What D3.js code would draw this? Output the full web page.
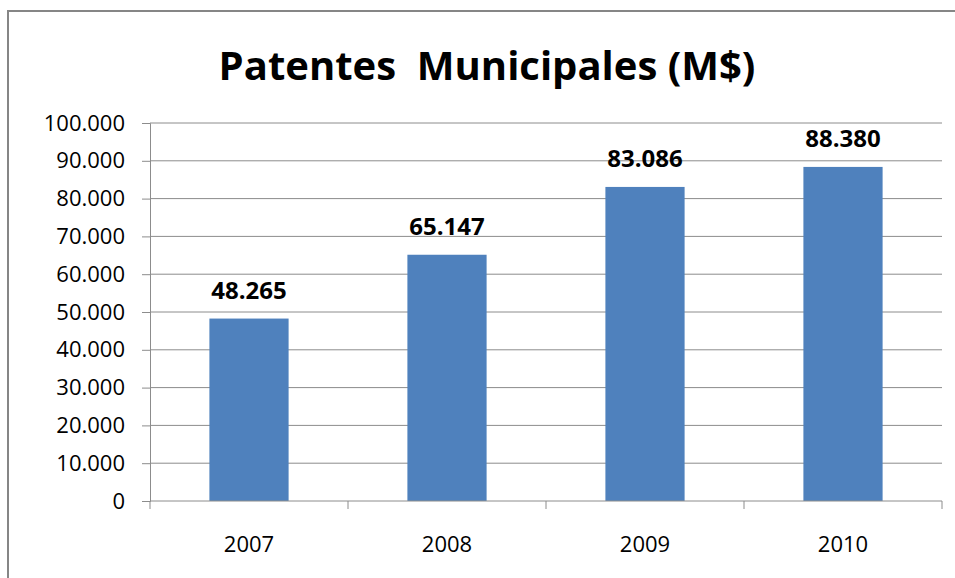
<!DOCTYPE html>
<html>
<head>
<meta charset="utf-8">
<script src="https://cdn.jsdelivr.net/npm/d3@7"></script>
<style>
  body { margin: 0; background: #fff; }
  text { font-family: "Open Sans", "Liberation Sans", sans-serif; }
</style>
</head>
<body>
<div id="chart"></div>
<script>
// datos del grafico
const years = ["2007", "2008", "2009", "2010"];
const values = [48265, 65147, 83086, 88380];
const yTicks = [0, 10000, 20000, 30000, 40000, 50000, 60000, 70000, 80000, 90000, 100000];
const titleText = "Patentes  Municipales (M$)";

const svgWidth = 955, svgHeight = 578;
const margin = { top: 123, left: 150, bottom: 77, right: 13 };
const width = svgWidth - margin.left - margin.right;
const height = svgHeight - margin.top - margin.bottom;

const fmt = v => d3.format(",")(v).replace(/,/g, ".");

const root = d3.select("#chart").append("svg")
  .attr("width", svgWidth)
  .attr("height", svgHeight);

// marco
root.append("rect")
  .attr("x", 8).attr("y", 11)
  .attr("width", 960).attr("height", 600)
  .attr("fill", "none")
  .attr("stroke", "#868686")
  .attr("stroke-width", 2);

root.append("text")
  .attr("x", 487).attr("y", 80)
  .attr("text-anchor", "middle")
  .style("font-size", "40px")
  .style("font-weight", "bold")
  .style("white-space", "pre")
  .attr("fill", "#000")
  .text(titleText);

const svg = root.append("g")
  .attr("transform", "translate(" + margin.left + "," + margin.top + ")");

const xScale = d3.scaleBand()
  .domain(years)
  .range([0, width])
  .paddingInner(0.6)
  .paddingOuter(0.3);

const yScale = d3.scaleLinear()
  .domain([0, 100000])
  .range([height, 0]);

// lineas de grilla
svg.append("g")
  .selectAll("line")
  .data(yTicks.slice(1))
  .enter()
  .append("line")
  .attr("x1", 0).attr("x2", width)
  .attr("y1", d => yScale(d)).attr("y2", d => yScale(d))
  .attr("stroke", "#8c8c8c")
  .attr("stroke-width", 1);

const yAxis = svg.append("g")
  .call(d3.axisLeft(yScale).tickValues(yTicks).tickFormat(d => d === 0 ? "0" : fmt(d)).tickSize(8).tickPadding(17));
yAxis.select(".domain").attr("stroke", "#8c8c8c");
yAxis.selectAll(".tick line").attr("stroke", "#8c8c8c");
yAxis.selectAll("text").style("font-size", "22px").attr("fill", "#000");

// barras
svg.append("g")
  .selectAll("rect")
  .data(values)
  .enter()
  .append("rect")
  .attr("x", (d, i) => xScale(years[i]))
  .attr("y", d => yScale(d))
  .attr("width", xScale.bandwidth())
  .attr("height", d => height - yScale(d))
  .attr("fill", "#4f81bd");

const xAxis = svg.append("g")
  .attr("transform", "translate(0," + height + ")")
  .call(d3.axisBottom(xScale).tickSize(0).tickPadding(35));
xAxis.select(".domain").remove();
xAxis.selectAll("text").style("font-size", "22px").attr("fill", "#000");

// ticks del eje x en los bordes de categoria
svg.append("g")
  .selectAll("line")
  .data(d3.range(years.length + 1))
  .enter()
  .append("line")
  .attr("x1", i => i * xScale.step()).attr("x2", i => i * xScale.step())
  .attr("y1", height).attr("y2", height + 8)
  .attr("stroke", "#8c8c8c");
svg.append("line")
  .attr("x1", 0).attr("x2", width)
  .attr("y1", height).attr("y2", height)
  .attr("stroke", "#8c8c8c");

// etiquetas de valor
svg.append("g")
  .selectAll("text")
  .data(values)
  .enter()
  .append("text")
  .attr("x", (d, i) => xScale(years[i]) + xScale.bandwidth() / 2)
  .attr("y", d => yScale(d) - 20)
  .attr("text-anchor", "middle")
  .style("font-size", "24px")
  .style("font-weight", "bold")
  .attr("fill", "#000")
  .text(d => fmt(d));
</script>
</body>
</html>
